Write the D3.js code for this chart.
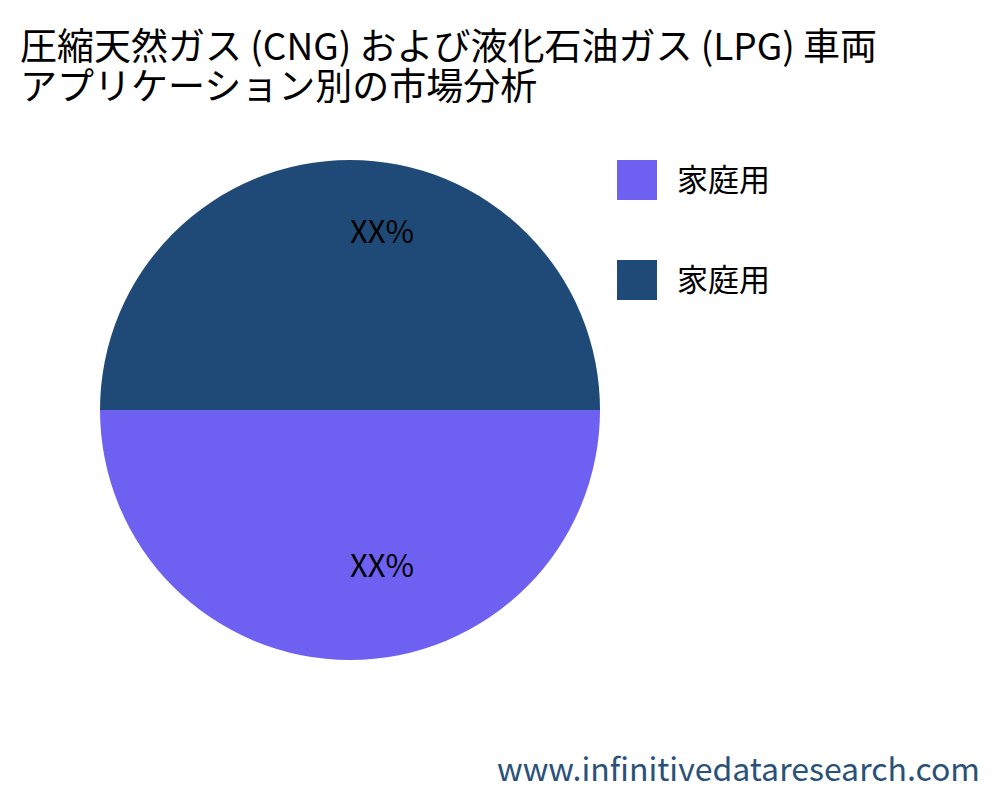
<!DOCTYPE html>
<html>
<head>
<meta charset="utf-8">
<script src="https://cdn.jsdelivr.net/npm/d3@7"></script>
<style>
  body { margin: 0; background: #fff; }
  text { font-family: "Noto Sans CJK JP", "Noto Sans", sans-serif; }
</style>
</head>
<body>
<svg width="1000" height="800"></svg>
<script>
// chart data
const titleLines = [
  "圧縮天然ガス (CNG) および液化石油ガス (LPG) 車両",
  "アプリケーション別の市場分析"
];
const categories = ["家庭用", "家庭用"];
const values = [50, 50];
const sliceLabels = ["XX%", "XX%"];
const colors = ["#6e60f0", "#1f4a77"];
const watermark = "www.infinitivedataresearch.com";

const svg = d3.select("svg");

// title
svg.append("text")
  .attr("font-size", 37)
  .selectAll("tspan")
  .data(titleLines)
  .enter()
  .append("tspan")
  .attr("x", 20)
  .attr("y", (d, i) => 60 + i * 40)
  .text((d) => d);

// pie
const cx = 350, cy = 410, r = 250;
const pie = d3.pie()
  .sort(null)
  .startAngle(Math.PI / 2)
  .endAngle(Math.PI / 2 + 2 * Math.PI);
const arcs = pie(values);
const arc = d3.arc().innerRadius(0).outerRadius(r);
const labelArc = d3.arc().innerRadius(r * 2 / 3).outerRadius(r * 2 / 3);

const g = svg.append("g").attr("transform", `translate(${cx},${cy})`);

g.selectAll("path")
  .data(arcs)
  .enter()
  .append("path")
  .attr("d", arc)
  .attr("fill", (d, i) => colors[i]);

// labels start at the slice centroid
g.selectAll("text.lbl")
  .data(arcs)
  .enter()
  .append("text")
  .attr("class", "lbl")
  .attr("x", (d) => labelArc.centroid(d)[0])
  .attr("y", (d) => labelArc.centroid(d)[1])
  .attr("font-size", 31)
  .attr("fill", "#000")
  .text((d, i) => sliceLabels[i]);

// legend
const legend = svg.append("g").attr("transform", "translate(617,160)");
const item = legend.selectAll("g")
  .data(categories)
  .enter()
  .append("g")
  .attr("transform", (d, i) => `translate(0,${i * 100})`);
item.append("rect")
  .attr("width", 40)
  .attr("height", 40)
  .attr("fill", (d, i) => colors[i]);
item.append("text")
  .attr("x", 60)
  .attr("y", 31)
  .attr("font-size", 31)
  .attr("fill", "#000")
  .text((d) => d);

// watermark
svg.append("text")
  .attr("x", 980)
  .attr("y", 781)
  .attr("text-anchor", "end")
  .attr("font-size", 32)
  .attr("fill", "#2a5179")
  .text(watermark);
</script>
</body>
</html>
